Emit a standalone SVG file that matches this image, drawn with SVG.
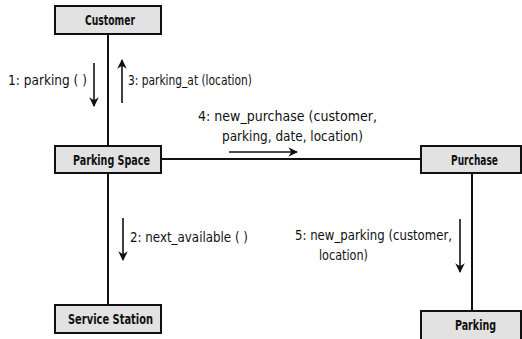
<svg xmlns="http://www.w3.org/2000/svg" width="522" height="339" viewBox="0 0 522 339">
  <style>
    .box { fill: #e2e2e2; stroke: #111; stroke-width: 2; }
    .name { font-family: "DejaVu Sans Condensed", "Liberation Sans Narrow", "Liberation Sans", sans-serif; font-size: 14px; font-weight: bold; fill: #111; }
    .msg { font-family: "DejaVu Sans Condensed", "Liberation Sans Narrow", "Liberation Sans", sans-serif; font-size: 14px; fill: #111; }
    .link { stroke: #111; stroke-width: 2; fill: none; }
    .flow { stroke: #111; stroke-width: 1.6; fill: none; marker-end: url(#head); }
  </style>
  <defs>
    <marker id="head" viewBox="0 0 10 10" refX="9" refY="5" markerWidth="6" markerHeight="6" orient="auto" markerUnits="strokeWidth">
      <path d="M0,0 L10,5 L0,10 L3,5 Z" fill="#111"/>
    </marker>
  </defs>
  <rect width="522" height="339" fill="#fff"/>

  <!-- associations between objects -->
  <g id="connectors">
    <line class="link" x1="108" y1="34" x2="108" y2="146"/>
    <line class="link" x1="108" y1="173" x2="108" y2="305"/>
    <line class="link" x1="161" y1="159" x2="421" y2="159"/>
    <line class="link" x1="472" y1="173" x2="472" y2="311"/>
  </g>

  <!-- numbered messages -->
  <g id="messages">
    <line class="flow" x1="94" y1="63" x2="94" y2="106"/>
    <text class="msg" x="8" y="85" textLength="79" lengthAdjust="spacingAndGlyphs">1:  parking ( )</text>

    <line class="flow" x1="122" y1="103" x2="122" y2="60"/>
    <text class="msg" x="128" y="85" textLength="124" lengthAdjust="spacingAndGlyphs">3:  parking_at (location)</text>

    <line class="flow" x1="229" y1="152" x2="297" y2="152"/>
    <text class="msg" x="198" y="121" textLength="179" lengthAdjust="spacingAndGlyphs">4:  new_purchase (customer,</text>
    <text class="msg" x="222" y="141" textLength="141" lengthAdjust="spacingAndGlyphs">parking, date, location)</text>

    <line class="flow" x1="123" y1="218" x2="123" y2="260"/>
    <text class="msg" x="130" y="242" textLength="118" lengthAdjust="spacingAndGlyphs">2:  next_available ( )</text>

    <line class="flow" x1="460" y1="219" x2="460" y2="272"/>
    <text class="msg" x="295" y="240" textLength="157" lengthAdjust="spacingAndGlyphs">5:  new_parking (customer,</text>
    <text class="msg" x="319" y="260" textLength="49" lengthAdjust="spacingAndGlyphs">location)</text>
  </g>

  <g id="customer">
    <rect class="box" x="55" y="6" width="106" height="28"/>
    <text class="name" x="85" y="25" textLength="50" lengthAdjust="spacingAndGlyphs">Customer</text>
  </g>
  <g id="parking-space">
    <rect class="box" x="55" y="146" width="106" height="27"/>
    <text class="name" x="73" y="165" textLength="77" lengthAdjust="spacingAndGlyphs">Parking Space</text>
  </g>
  <g id="service-station">
    <rect class="box" x="55" y="305" width="106" height="28"/>
    <text class="name" x="68" y="324" textLength="85" lengthAdjust="spacingAndGlyphs">Service Station</text>
  </g>
  <g id="purchase">
    <rect class="box" x="421" y="146" width="100" height="27"/>
    <text class="name" x="451" y="165" textLength="47" lengthAdjust="spacingAndGlyphs">Purchase</text>
  </g>
  <g id="parking">
    <rect class="box" x="421" y="311" width="100" height="32"/>
    <text class="name" x="455" y="330" textLength="41" lengthAdjust="spacingAndGlyphs">Parking</text>
  </g>
</svg>
